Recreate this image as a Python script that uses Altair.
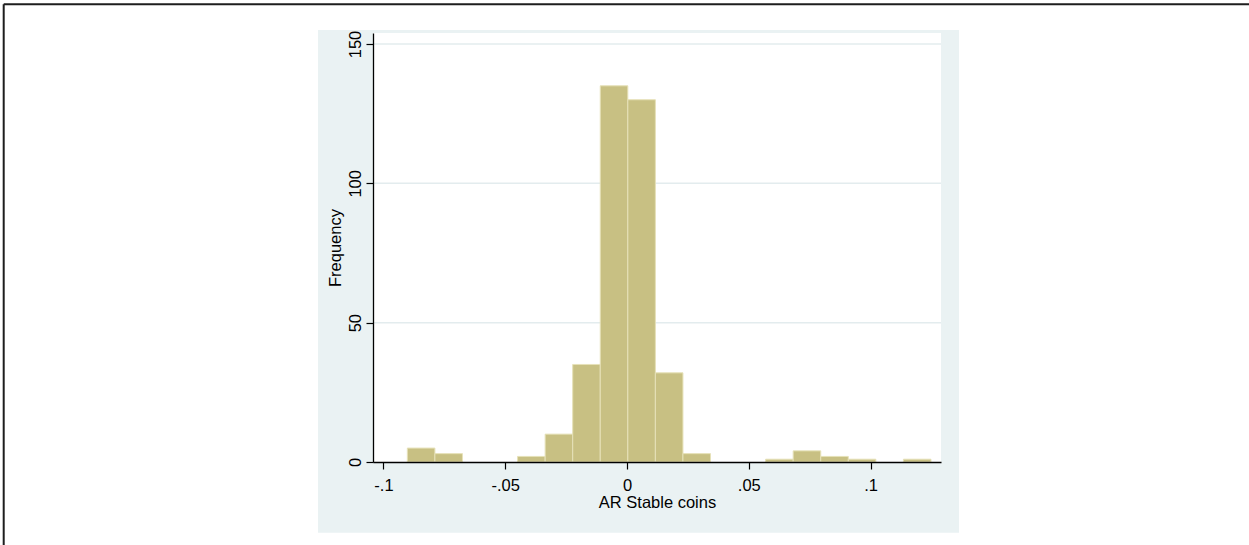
import altair as alt
import pandas as pd

# Histogram of abnormal returns: 19 equal-width bins
bin_start = -0.0902
bin_width = 0.011315
counts = [5, 3, 0, 0, 2, 10, 35, 135, 130, 32, 3, 0, 0, 1, 4, 2, 1, 0, 1]

x_ticks = [-0.1, -0.05, 0, 0.05, 0.1]
y_ticks = [0, 50, 100, 150]
grid_levels = [50, 100, 150]

bars_df = pd.DataFrame({
    "lo": [bin_start + i * bin_width for i in range(len(counts))],
    "count": counts,
})
bars_df["hi"] = bars_df["lo"] + bin_width

FONT = "Liberation Sans"
W, H = 568, 429

x_scale = alt.Scale(domain=[-0.1043, 0.1289], nice=False, zero=False)
y_scale = alt.Scale(domain=[0, 153.95], nice=False)

x_axis = alt.Axis(
    values=x_ticks,
    labelExpr="replace(toString(datum.value), '0.', '.')",
    title="AR Stable coins",
    grid=False,
    domainColor="black", domainWidth=1.3,
    tickColor="black", tickSize=7, tickWidth=1.2,
    labelFont=FONT, labelFontSize=16.5, labelColor="black",
    labelPadding=21, labelBaseline="alphabetic",
    labelFlush=False, labelOverlap=False,
    titleFont=FONT, titleFontSize=16.5, titleFontWeight="normal",
    titleColor="black", titleY=45.5, titleBaseline="alphabetic",
    zindex=1,
)
y_axis = alt.Axis(
    values=y_ticks,
    title="Frequency",
    grid=False,
    domainColor="black", domainWidth=1.3,
    tickColor="black", tickSize=7, tickWidth=1.2,
    labelFont=FONT, labelFontSize=16.5, labelColor="black",
    labelAngle=270, labelAlign="center", labelBaseline="alphabetic",
    labelPadding=6, labelOverlap=False,
    titleFont=FONT, titleFontSize=16.5, titleFontWeight="normal",
    titleColor="black", titleAngle=270, titleAlign="center",
    titleBaseline="alphabetic", titleX=-33, titleY=214.5,
    zindex=1,
)

one = alt.Data(values=[{}])

# light bluish-gray graph region and white plot region
graph_region = alt.Chart(one).mark_rect(color="#eaf2f3").encode(
    x=alt.value(-55), x2=alt.value(586), y=alt.value(-3), y2=alt.value(499.7)
)
plot_region = alt.Chart(one).mark_rect(color="white").encode(
    x=alt.value(0), x2=alt.value(W), y=alt.value(0), y2=alt.value(H)
)

grid = alt.Chart(pd.DataFrame({"count": grid_levels})).mark_rule(
    color="#e3ecee", strokeWidth=1.5
).encode(
    y=alt.Y("count:Q", scale=y_scale, axis=y_axis),
    x=alt.value(0), x2=alt.value(W),
)

bars = alt.Chart(bars_df).transform_filter("datum.count > 0").mark_rect(
    color="#c8c083", stroke="#e6e1b8", strokeWidth=1
).encode(
    x=alt.X("lo:Q", scale=x_scale, axis=x_axis),
    x2="hi:Q",
    y=alt.Y("count:Q", scale=y_scale, axis=y_axis),
    y2=alt.datum(0),
)

# frame lines along the top and left edges of the figure
frame_top = alt.Chart(one).mark_rule(color="#1e1e1e", strokeWidth=2).encode(
    x=alt.value(-369.3), x2=alt.value(876), y=alt.value(-28.7)
)
frame_left = alt.Chart(one).mark_rule(color="#1e1e1e", strokeWidth=2).encode(
    x=alt.value(-369.3), y=alt.value(-28.7), y2=alt.value(512)
)

chart = alt.layer(
    graph_region, plot_region, grid, bars, frame_top, frame_left
).properties(
    width=W, height=H,
    autosize=alt.AutoSizeParams(type="none"),
    padding={"left": 373, "top": 33, "right": 308, "bottom": 83},
    background="white",
).configure_view(strokeWidth=0)

chart.save("out.html", embed_options={"renderer": "svg", "actions": False})
